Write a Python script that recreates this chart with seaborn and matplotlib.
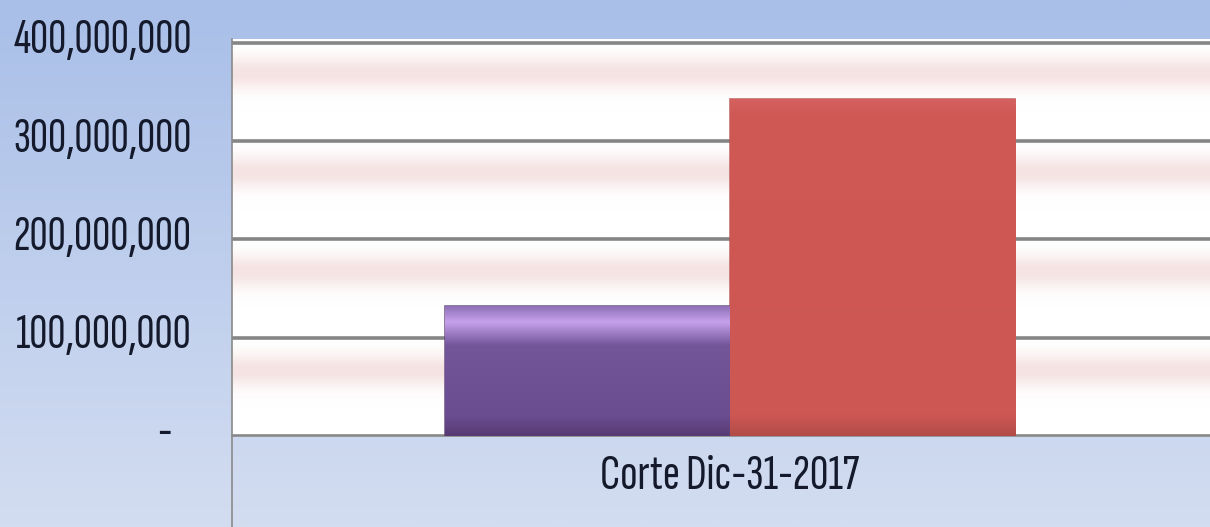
#!/usr/bin/env python3
"""Bar chart: Corte Dic-31-2017, two series, Excel-like styling."""
import numpy as np
import pandas as pd
import matplotlib
matplotlib.use("Agg")
import matplotlib.pyplot as plt
import matplotlib.ticker as mticker
import matplotlib.transforms as mtrans
import seaborn as sns

# data
categories = ["Corte Dic-31-2017"]
series = ["Serie 1", "Serie 2"]
values = [132_000_000, 343_000_000]
bar_colors = ["#6b4e91", "#cd5753"]
y_ticks = [0, 100_000_000, 200_000_000, 300_000_000, 400_000_000]

df = pd.DataFrame({
    "categoria": categories * len(series),
    "serie": series,
    "valor": values,
})

sns.set_style("white")
plt.rcParams["font.family"] = ["Sofia Sans Extra Condensed", "DejaVu Sans"]

fig = plt.figure(figsize=(12.1, 5.27), dpi=100)

# light blue figure background gradient
bg = fig.add_axes([0, 0, 1, 1], zorder=-10)
grad = np.linspace(0, 1, 256)[:, None]
bg_cmap = matplotlib.colors.LinearSegmentedColormap.from_list("bg", ["#a9bfe8", "#d3ddf1"])
bg.imshow(grad, cmap=bg_cmap, aspect="auto", extent=[0, 1, 0, 1], origin="upper")
bg.set_axis_off()

ax = fig.add_axes([0.1917, 0.1727, 0.8083, 0.7533])
ax.patch.set_alpha(0)

# white plot area with a soft pink band in each gridline interval
t = np.linspace(0, 4, 800)
phase = t % 1.0
band = np.exp(-((phase - 0.66) / 0.16) ** 2)[:, None]
band_cmap = matplotlib.colors.LinearSegmentedColormap.from_list("band", ["#ffffff", "#f5e2e2"])
ax.imshow(band, cmap=band_cmap, aspect="auto", extent=[0, 1, 0, 1], origin="lower",
          transform=ax.transAxes, zorder=0)

sns.barplot(data=df, x="categoria", y="valor", hue="serie", palette=bar_colors,
            width=0.583, dodge=True, legend=False, ax=ax, zorder=3,
            edgecolor="none", saturation=1)

# shading on the bars
shades = [["#573a72", "#6a4d90", "#735599", "#c6a2ec", "#8e70b6"],
          ["#b24c48", "#cd5753", "#cf5855", "#cf5855", "#d46260"]]
stops = [[0, 0.15, 0.7, 0.88, 1.0], [0, 0.06, 0.7, 0.95, 1.0]]
for patch, cols, st in zip(ax.patches, shades, stops):
    x, y = patch.get_x(), patch.get_y()
    w, h = patch.get_width(), patch.get_height()
    cm = matplotlib.colors.LinearSegmentedColormap.from_list("b", list(zip(st, cols)))
    im = ax.imshow(np.linspace(0, 1, 256)[:, None], cmap=cm, aspect="auto",
                   extent=[x, x + w, y, y + h], origin="lower", zorder=4)
    im.set_clip_path(patch)
    patch.set_edgecolor(matplotlib.colors.to_rgba(cols[0], 0.8))
    patch.set_linewidth(1.2)

ax.set_xlim(-0.509, 0.491)
ax.set_ylim(0, 4.04e8)
ax.set_yticks(y_ticks)
ax.yaxis.set_major_formatter(mticker.FuncFormatter(
    lambda v, _: "-   " if v == 0 else f"{v:,.0f}"))
ax.yaxis.grid(True, color="#858585", linewidth=2.6, zorder=1)
ax.set_axisbelow(True)
ax.tick_params(axis="y", length=0, pad=29, labelsize=36, labelcolor="#141a2c")
ax.tick_params(axis="x", length=0, pad=13, labelsize=37, labelcolor="#141a2c")
ax.set_xlabel("")
ax.set_ylabel("")

# y labels sit a little above their gridlines
shift = mtrans.ScaledTranslation(0, 7 / 100, fig.dpi_scale_trans)
for lab in ax.get_yticklabels():
    lab.set_transform(lab.get_transform() + shift)

for side in ["top", "right"]:
    ax.spines[side].set_visible(False)
ax.spines["left"].set_color("#8a8a8a")
ax.spines["left"].set_linewidth(1.2)
ax.spines["bottom"].set_color("#8a8a8a")
ax.spines["bottom"].set_linewidth(1.2)
ax.spines["left"].set_bounds(-1.2e8, 4.04e8)
ax.spines["left"].set_clip_on(False)

fig.savefig("out.png", dpi=100)
